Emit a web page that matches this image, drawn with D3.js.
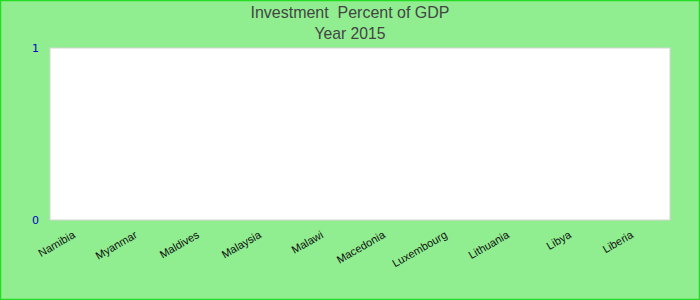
<!DOCTYPE html>
<html>
<head>
<meta charset="utf-8">
<script src="https://cdn.jsdelivr.net/npm/d3@7"></script>
<style>
  body { margin: 0; }
  svg { display: block; }
</style>
</head>
<body>
<div id="chart"></div>
<script>
const titleLines = ["Investment  Percent of GDP", "Year 2015"];
const titleWidths = [199, 71];
const countries = ["Namibia", "Myanmar", "Maldives", "Malaysia", "Malawi",
                   "Macedonia", "Luxembourg", "Lithuania", "Libya", "Liberia"];
const values = [0, 0, 0, 0, 0, 0, 0, 0, 0, 0];
const yTicks = [0, 1];

const width = 700, height = 300;
const margin = {top: 48, right: 30, bottom: 80, left: 50};

const svg = d3.select("#chart").append("svg")
    .attr("width", width)
    .attr("height", height);

// background + outer border
svg.append("rect")
    .attr("x", 0.5).attr("y", 0.5)
    .attr("width", width - 1).attr("height", height - 1)
    .attr("fill", "#90ee90")
    .attr("stroke", "#22dd22")
    .attr("stroke-width", 1.5);

const x = d3.scaleBand()
    .domain(countries)
    .range([margin.left, width - margin.right]);

const y = d3.scaleLinear()
    .domain([0, 1])
    .range([height - margin.bottom, margin.top]);

// plot area
svg.append("rect")
    .attr("x", margin.left)
    .attr("y", margin.top)
    .attr("width", width - margin.left - margin.right)
    .attr("height", height - margin.top - margin.bottom)
    .attr("fill", "#fff")
    .attr("stroke", "#d4d4d4")
    .attr("stroke-width", 1);

// bars (all zero)
svg.append("g")
    .attr("fill", "steelblue")
  .selectAll("rect")
  .data(values)
  .join("rect")
    .attr("x", (d, i) => x(countries[i]) + x.bandwidth() * 0.1)
    .attr("width", x.bandwidth() * 0.8)
    .attr("y", d => y(d))
    .attr("height", d => y(0) - y(d));

// title (double space kept with a non-breaking space)
svg.append("g")
    .attr("font-family", "'Liberation Sans', Arial, sans-serif")
    .attr("font-size", 17)
    .attr("fill", "#444")
    .attr("text-anchor", "middle")
  .selectAll("text")
  .data(titleLines)
  .join("text")
    .attr("x", width / 2)
    .attr("y", (d, i) => 18 + i * 20.5)
    .attr("textLength", (d, i) => titleWidths[i])
    .attr("lengthAdjust", "spacingAndGlyphs")
    .text(d => d.replace(/  /g, " \u00a0"));

// y axis
const yAxis = svg.append("g")
    .attr("transform", `translate(${margin.left},0)`)
    .call(d3.axisLeft(y).tickValues(yTicks).tickFormat(d3.format("d")).tickSize(0).tickPadding(11));
yAxis.select(".domain").remove();
yAxis.selectAll("text")
    .attr("font-family", "'DejaVu Sans', sans-serif")
    .attr("font-size", 11)
    .attr("fill", "#0000c0");

// x axis
const xAxis = svg.append("g")
    .attr("transform", `translate(0,${height - margin.bottom})`)
    .call(d3.axisBottom(x).tickSize(0).tickPadding(0));
xAxis.select(".domain").remove();
xAxis.selectAll("text")
    .attr("font-family", "'Liberation Sans', Arial, sans-serif")
    .attr("font-size", 11)
    .attr("fill", "#111")
    .attr("text-anchor", "end")
    .attr("dy", null)
    .attr("transform", "translate(-5,17) rotate(-30)");
</script>
</body>
</html>
